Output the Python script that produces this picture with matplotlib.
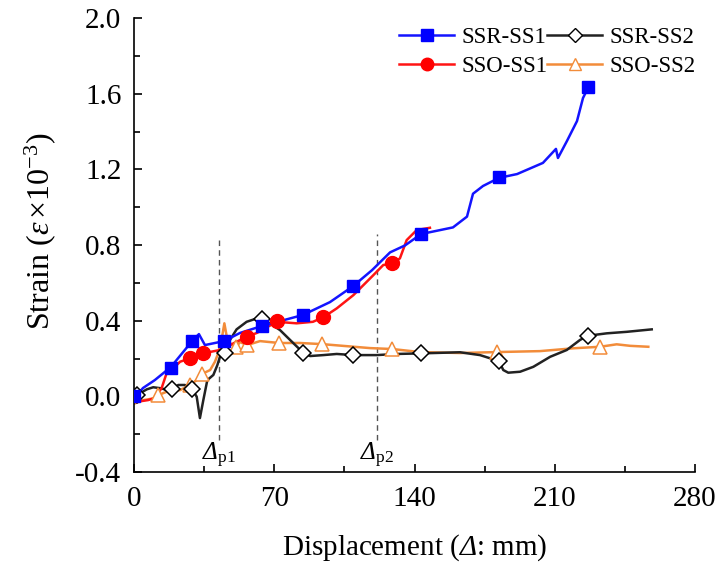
import matplotlib
matplotlib.use("Agg")
import matplotlib.pyplot as plt
from matplotlib.lines import Line2D
from matplotlib.ticker import MultipleLocator, FormatStrFormatter

plt.rcParams['font.family'] = ['Liberation Serif', 'DejaVu Serif']
plt.rcParams['mathtext.fontset'] = 'custom'
plt.rcParams['mathtext.rm'] = 'Liberation Serif'
plt.rcParams['mathtext.it'] = 'Liberation Serif:italic'
plt.rcParams['mathtext.bf'] = 'Liberation Serif:bold'
plt.rcParams['mathtext.sf'] = 'Liberation Serif:italic'

# ---- data ----
ssr1_x = [0, 1.5, 4.5, 10.4, 18.4, 29.0, 32.4, 35.4, 40.4, 45.0, 52.9, 63.9, 84.3, 97.8, 109.4,
          118.8, 127.8, 135.3, 143.3, 159.2, 166.2, 169.2, 174.2, 182.2, 191.2, 204.1, 210.6,
          211.6, 216.1, 221.1, 224.1, 226.6]
ssr1_y = [0, 0.007, 0.044, 0.086, 0.155, 0.292, 0.329, 0.271, 0.282, 0.292, 0.335, 0.372, 0.430,
          0.498, 0.583, 0.667, 0.761, 0.798, 0.858, 0.893, 0.950, 1.071, 1.112, 1.155, 1.175,
          1.234, 1.308, 1.260, 1.350, 1.455, 1.577, 1.630]
ssr1_mx = [0, 18.4, 29.0, 45.0, 63.9, 84.3, 109.4, 143.3, 182.2, 226.6]
ssr1_my = [0, 0.152, 0.292, 0.292, 0.372, 0.430, 0.583, 0.858, 1.158, 1.635]

sso1_x = [1.3, 7.0, 10.4, 13.8, 16.3, 17.9, 23.0, 28.0, 34.3, 42.9, 47.9, 56.2, 61.3, 71.2, 81.2,
          89.3, 94.5, 101.2, 109.5, 119.5, 124.4, 128.9, 132.7, 136.1, 141.1, 147.7]
sso1_y = [-0.029, -0.020, -0.009, 0.044, 0.123, 0.130, 0.183, 0.201, 0.227, 0.245, 0.271, 0.315,
          0.335, 0.394, 0.386, 0.394, 0.418, 0.465, 0.535, 0.641, 0.694, 0.703, 0.729, 0.826,
          0.879, 0.891]
sso1_mx = [28.0, 34.3, 56.2, 71.4, 94.5, 128.9]
sso1_my = [0.204, 0.227, 0.315, 0.396, 0.418, 0.703]

ssr2_x = [0, 1.5, 6.4, 9.6, 13.8, 16.3, 18.8, 22.1, 25.4, 29.1, 31.3, 32.9, 34.6, 36.6, 39.6,
          41.6, 43.7, 45.5, 47.9, 51.2, 56.2, 61.3, 64.0, 67.8, 72.9, 77.9, 84.5, 87.9, 94.5,
          101.2, 109.5, 121.1, 131.1, 143.1, 162.7, 172.7, 182.2, 184.3, 186.8, 192.7, 199.3,
          207.7, 216.0, 222.6, 226.4, 235.9, 245.9, 258.4]
ssr2_y = [-0.011, 0.007, 0.037, 0.048, 0.042, 0.033, 0.037, 0.060, 0.060, 0.037, -0.002, -0.115,
          -0.020, 0.086, 0.113, 0.165, 0.236, 0.229, 0.298, 0.354, 0.394, 0.412, 0.409, 0.386,
          0.350, 0.298, 0.230, 0.213, 0.218, 0.224, 0.218, 0.218, 0.224, 0.227, 0.233, 0.218,
          0.186, 0.139, 0.125, 0.130, 0.156, 0.209, 0.245, 0.298, 0.320, 0.333, 0.341, 0.354]
ssr2_mx = [1.5, 18.8, 29.1, 45.5, 64.0, 84.5, 109.5, 143.1, 182.2, 226.4]
ssr2_my = [0.007, 0.037, 0.037, 0.229, 0.409, 0.230, 0.218, 0.227, 0.186, 0.320]

sso2_x = [0.5, 4.7, 9.6, 12.2, 16.3, 23.0, 28.0, 31.3, 33.8, 38.0, 40.4, 42.0, 43.7, 45.1, 46.6,
          48.9, 51.1, 52.9, 56.5, 62.9, 72.4, 82.8, 93.9, 105.3, 117.8, 129.0, 142.8, 162.7,
          181.1, 202.6, 219.3, 232.6, 240.9, 247.6, 256.7]
sso2_y = [-0.037, -0.020, -0.011, 0.007, 0.024, 0.033, 0.060, 0.086, 0.118, 0.139, 0.183, 0.227,
          0.298, 0.386, 0.298, 0.271, 0.261, 0.287, 0.271, 0.292, 0.282, 0.282, 0.276, 0.266,
          0.255, 0.250, 0.234, 0.229, 0.234, 0.239, 0.254, 0.262, 0.275, 0.267, 0.262]
sso2_mx = [12.2, 28.0, 33.8, 51.1, 56.5, 72.4, 93.9, 129.0, 181.1, 232.6]
sso2_my = [0.007, 0.060, 0.118, 0.261, 0.271, 0.282, 0.276, 0.250, 0.234, 0.262]

peak_x = [42.4, 121.3]
peak_top = [0.84, 0.86]
peak_labels = [r'$\mathsf{Δ}_{\mathrm{p1}}$', r'$\mathsf{Δ}_{\mathrm{p2}}$']

labels = ['SSR-SS1', 'SSR-SS2', 'SSO-SS1', 'SSO-SS2']

# ---- figure ----
fig = plt.figure(figsize=(7.16, 5.66), dpi=100)
ax = fig.add_axes([134 / 716, 1 - 472 / 566, 561 / 716, 454 / 566])

c_blue = '#1414ff'
c_red = '#ff1414'
c_black = '#222222'
c_orange = '#f28c3a'

lw = 1.8
ax.plot(sso2_x, sso2_y, color=c_orange, lw=lw, zorder=2)
ax.plot(ssr2_x, ssr2_y, color=c_black, lw=lw, zorder=3)
ax.plot(sso1_x, sso1_y, color=c_red, lw=lw, zorder=4)
ax.plot(ssr1_x, ssr1_y, color=c_blue, lw=lw, zorder=5)

ax.plot(sso2_mx, sso2_my, ls='none', marker='^', ms=10, mfc='white', mec=c_orange, mew=1.1, zorder=6)
ax.plot(ssr2_mx, ssr2_my, ls='none', marker='D', ms=8.5, mfc='white', mec='black', mew=1.1, zorder=7)
ax.plot(sso1_mx, sso1_my, ls='none', marker='o', ms=10, mfc='#ff0000', mec='#ff0000', zorder=8)
ax.plot(ssr1_mx, ssr1_my, ls='none', marker='s', ms=9, mfc='#0000ff', mec='#0000ff', zorder=9)

for px, pt, pl in zip(peak_x, peak_top, peak_labels):
    ax.plot([px, px], [-0.23, pt], color='#555555', lw=1.0, ls=(0, (4, 3)), zorder=1)
    ax.text(px, -0.31, pl, ha='center', va='center', fontsize=18)

ax.set_xlim(0, 280)
ax.set_ylim(-0.4, 2.0)
ax.xaxis.set_major_locator(MultipleLocator(70))
ax.xaxis.set_minor_locator(MultipleLocator(35))
ax.yaxis.set_major_locator(MultipleLocator(0.4))
ax.yaxis.set_minor_locator(MultipleLocator(0.2))
ax.yaxis.set_major_formatter(FormatStrFormatter('%.1f'))
ax.spines['top'].set_visible(False)
ax.spines['right'].set_visible(False)
for s in ['left', 'bottom']:
    ax.spines[s].set_linewidth(1.2)
ax.tick_params(which='major', direction='in', length=6, width=1.2, labelsize=21)
ax.tick_params(which='minor', direction='in', length=4, width=1.2)
ax.tick_params(axis='x', which='major', pad=10)
ax.tick_params(axis='y', which='major', pad=9)

ax.set_xlabel(r'Displacement ($\mathsf{Δ}$: mm)', fontsize=21, labelpad=15)
ax.set_ylabel(r'Strain ($ε\,$$\times$10$^{-3}$)', fontsize=23)
ax.yaxis.set_label_coords(-0.135, 0.53)

handles = [
    Line2D([], [], color=c_blue, lw=lw, marker='s', ms=8, mfc='#0000ff', mec='#0000ff'),
    Line2D([], [], color=c_red, lw=lw, marker='o', ms=9, mfc='#ff0000', mec='#ff0000'),
    Line2D([], [], color=c_black, lw=lw, marker='D', ms=7.5, mfc='white', mec='black'),
    Line2D([], [], color=c_orange, lw=lw, marker='^', ms=9, mfc='white', mec=c_orange),
]
leg_labels = [labels[0], labels[2], labels[1], labels[3]]
ax.legend(handles, leg_labels, ncol=2, loc='upper right', bbox_to_anchor=(1.025, 1.01),
          frameon=False, fontsize=16.5, handlelength=2.4, handletextpad=0.3,
          columnspacing=0.0, labelspacing=0.35, borderaxespad=0.2)

fig.savefig('out.png', dpi=100)
